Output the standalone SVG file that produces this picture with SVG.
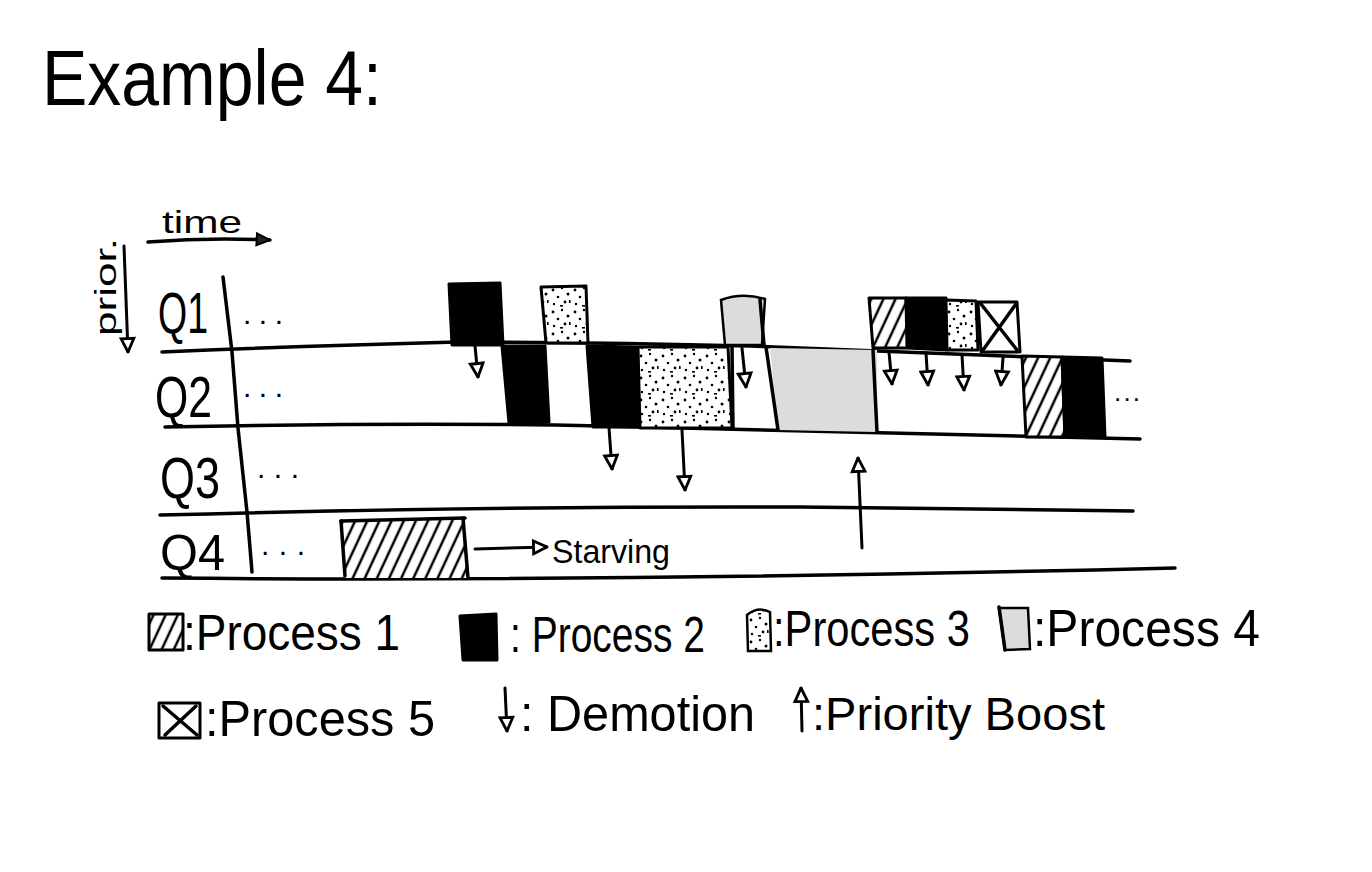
<svg xmlns="http://www.w3.org/2000/svg" width="1372" height="872" viewBox="0 0 1372 872">
<style>
.t{font-family:"Liberation Sans",Arial,sans-serif;fill:#000}
.ln{fill:none;stroke:#000;stroke-width:3.5;stroke-linecap:round;stroke-linejoin:round}
.bd{stroke:#000;stroke-width:3;stroke-linejoin:round}
.arr{fill:none;stroke:#000;stroke-width:3;stroke-linecap:round;marker-end:url(#hollow)}
</style>
<defs>
<marker id="hollow" viewBox="0 0 12 12" refX="11" refY="6" markerWidth="17" markerHeight="17" markerUnits="userSpaceOnUse" orient="auto">
<path d="M1.5,1.5 L11,6 L1.5,10.5 Z" fill="#fff" stroke="#000" stroke-width="2"/>
</marker>
<marker id="solid" viewBox="0 0 12 12" refX="11" refY="6" markerWidth="16" markerHeight="16" markerUnits="userSpaceOnUse" orient="auto">
<path d="M1,1.5 L11,6 L1,10.5 Z" fill="#222" stroke="#000" stroke-width="1.5"/>
</marker>
<pattern id="hatch" patternUnits="userSpaceOnUse" width="11" height="11" patternTransform="rotate(25)">
<rect width="11" height="11" fill="#fff"/>
<line x1="3" y1="0" x2="3" y2="11" stroke="#000" stroke-width="2.5"/>
</pattern>
<pattern id="dots" patternUnits="userSpaceOnUse" width="22" height="22">
<rect width="22" height="22" fill="#fff"/>
<circle cx="3" cy="4" r="1.4" fill="#000"/>
<circle cx="12" cy="2" r="1.2" fill="#000"/>
<circle cx="18" cy="8" r="1.5" fill="#000"/>
<circle cx="8" cy="11" r="1.3" fill="#000"/>
<circle cx="15" cy="16" r="1.4" fill="#000"/>
<circle cx="4" cy="18" r="1.2" fill="#000"/>
<rect x="10" y="19" width="3" height="1.6" fill="#000"/>
<rect x="19" y="14" width="1.6" height="3" fill="#000"/>
</pattern>
</defs>
<rect width="1372" height="872" fill="#fff"/>

<g id="title">
<text class="t" x="42" y="105" font-size="78" textLength="340" lengthAdjust="spacingAndGlyphs">Example 4:</text>
</g>

<g id="axes">
<text class="t" x="162" y="233" font-size="32" textLength="80" lengthAdjust="spacingAndGlyphs">time</text>
<path d="M148,242 Q210,237 270,240" class="ln" stroke-width="3" marker-end="url(#solid)"/>
<text class="t" transform="translate(116,336) rotate(-90)" font-size="30" textLength="98" lengthAdjust="spacingAndGlyphs">prior.</text>
<path d="M124,246 L128,352" fill="none" stroke="#000" stroke-width="3" stroke-linecap="round" marker-end="url(#hollow)"/>
<path d="M223,277 L232,352 L238,428 L247,512 L252,572" class="ln" stroke-width="3"/>
</g>

<g id="queue-labels">
<text class="t" x="158" y="333" font-size="58" textLength="50" lengthAdjust="spacingAndGlyphs">Q1</text>
<text class="t" x="155" y="417" font-size="58" textLength="57" lengthAdjust="spacingAndGlyphs">Q2</text>
<text class="t" x="160" y="498" font-size="58" textLength="60" lengthAdjust="spacingAndGlyphs">Q3</text>
<text class="t" x="160" y="570" font-size="50" textLength="65" lengthAdjust="spacingAndGlyphs">Q4</text>
<text class="t" x="243" y="324" font-size="30" textLength="40" lengthAdjust="spacing">...</text>
<text class="t" x="243" y="397" font-size="30" textLength="40" lengthAdjust="spacing">...</text>
<text class="t" x="257" y="478" font-size="30" textLength="42" lengthAdjust="spacing">...</text>
<text class="t" x="261" y="555" font-size="30" textLength="44" lengthAdjust="spacing">...</text>
<text class="t" x="1114" y="401" font-size="26" textLength="26" lengthAdjust="spacing">...</text>
</g>

<g id="queue-lines">
<path d="M162,352 Q300,346 457,342 Q600,342 750,346 L1130,361" class="ln"/>
<path d="M165,427 Q420,422 600,426 L1140,439" class="ln"/>
<path d="M160,515 Q500,506 800,507 L1133,511" class="ln"/>
<path d="M162,578 Q600,582 1175,568" class="ln" stroke-width="4.5"/>
</g>

<g id="q4-p1">
<path d="M341,521 L465,518 L468,578 L345,578 Z" fill="url(#hatch)"/>
<path d="M341,521 L345,576" class="ln" stroke-width="4"/>
<path d="M463,518 L468,578" class="ln" stroke-width="4"/>
<path d="M341,521 L465,518" class="ln" stroke-width="3"/>
</g>

<g id="starving">
<text class="t" x="552" y="563" font-size="34" textLength="118" lengthAdjust="spacingAndGlyphs">Starving</text>
</g>

<g id="q1-p2-a">
<path d="M449,284 L500,283 L503,345 L452,345 Z" fill="#000" class="bd"/>
</g>
<g id="q1-p3-a">
<path d="M541,287 L586,286 L588,343 L546,343 Z" fill="url(#dots)" class="bd"/>
</g>
<g id="q1-p4">
<path d="M721,300 Q742,292 765,299 L762,345 L725,345 Z" fill="#dcdcdc" stroke="#000" stroke-width="2.5"/>
<path d="M760,300 L764,345" class="ln" stroke-width="4.5"/>
</g>

<g id="q2-p2-a">
<path d="M502,346 L545,346 L549,422 L509,423 Z" fill="#000" class="bd"/>
</g>
<g id="q2-p2-b">
<path d="M587,346 L637,347 L638,427 L593,427 Z" fill="#000" class="bd"/>
</g>
<g id="q2-p3">
<path d="M638,347 L728,347 L732,428 L640,428 Z" fill="url(#dots)" class="bd"/>
</g>
<g id="q2-p4">
<path d="M732,347 L733,429" class="ln" stroke-width="3"/>
<path d="M770,348 L877,350 L877,432 L778,430 Z" fill="#dcdcdc"/>
<path d="M766,347 L778,430" class="ln" stroke-width="4"/>
<path d="M873,350 L877,432" class="ln" stroke-width="4"/>
</g>
<g id="q2-p1">
<path d="M1022,356 L1062,357 L1065,437 L1026,437 Z" fill="url(#hatch)" class="bd"/>
</g>
<g id="q2-p2-c">
<path d="M1062,357 L1102,358 L1105,437 L1065,437 Z" fill="#000" class="bd"/>
</g>

<g id="q1-p1">
<path d="M869,298 L906,298 L907,348 L873,348 Z" fill="url(#hatch)" class="bd"/>
</g>
<g id="q1-p2-b">
<path d="M906,298 L946,298 L947,350 L908,348 Z" fill="#000" class="bd"/>
</g>
<g id="q1-p3-b">
<path d="M946,300 L976,301 L978,350 L947,350 Z" fill="url(#dots)" class="bd"/>
</g>
<g id="q1-p5">
<path d="M978,302 L1017,302 L1020,352 L981,352 Z" fill="#fff" class="bd"/>
<path d="M981,304 L1017,350 M1016,304 L983,350" class="ln" stroke-width="2.5"/>
</g>

<g id="connectors">
<path d="M475,346 L478,377" class="arr"/>
<path d="M742,348 L746,387" class="arr"/>
<path d="M609,428 L612,469" class="arr"/>
<path d="M682,430 L685,490" class="arr"/>
<path d="M889,352 L892,384" class="arr"/>
<path d="M926,353 L928,385" class="arr"/>
<path d="M962,355 L964,390" class="arr"/>
<path d="M1003,358 L1001,385" class="arr"/>
<path d="M862,548 L858,458" class="arr"/>
<path d="M475,549 L547,547" class="arr" stroke-width="2.5"/>
</g>

<g id="legend">
<rect x="149" y="614" width="34" height="36" fill="url(#hatch)" class="bd"/>
<text class="t" x="183" y="650" font-size="50" textLength="217" lengthAdjust="spacingAndGlyphs">:Process 1</text>
<path d="M460,616 L496,614 L497,660 L463,660 Z" fill="#000" class="bd"/>
<text class="t" x="510" y="652" font-size="50" textLength="195" lengthAdjust="spacingAndGlyphs">: Process 2</text>
<path d="M747,615 Q758,606 770,612 L771,651 L748,651 Z" fill="url(#dots)" stroke="#000" stroke-width="2.5"/>
<text class="t" x="773" y="646" font-size="50" textLength="197" lengthAdjust="spacingAndGlyphs">:Process 3</text>
<path d="M999,608 L1028,608 L1030,649 L1005,650 Z" fill="#dcdcdc" stroke="#000" stroke-width="2.5"/>
<path d="M999,607 L1005,650" class="ln" stroke-width="4"/>
<text class="t" x="1033" y="646" font-size="52" textLength="227" lengthAdjust="spacingAndGlyphs">:Process 4</text>
<rect x="159" y="703" width="41" height="35" fill="#fff" class="bd"/>
<path d="M163,706 L197,735 M196,706 L165,735" class="ln" stroke-width="2.5"/>
<text class="t" x="205" y="736" font-size="50" textLength="230" lengthAdjust="spacingAndGlyphs">:Process 5</text>
<path d="M505,688 L507,731" class="arr"/>
<text class="t" x="520" y="731" font-size="50" textLength="235" lengthAdjust="spacingAndGlyphs">: Demotion</text>
<path d="M802,731 L801,688" class="arr"/>
<text class="t" x="812" y="730" font-size="46" textLength="293" lengthAdjust="spacingAndGlyphs">:Priority Boost</text>
</g>
</svg>
